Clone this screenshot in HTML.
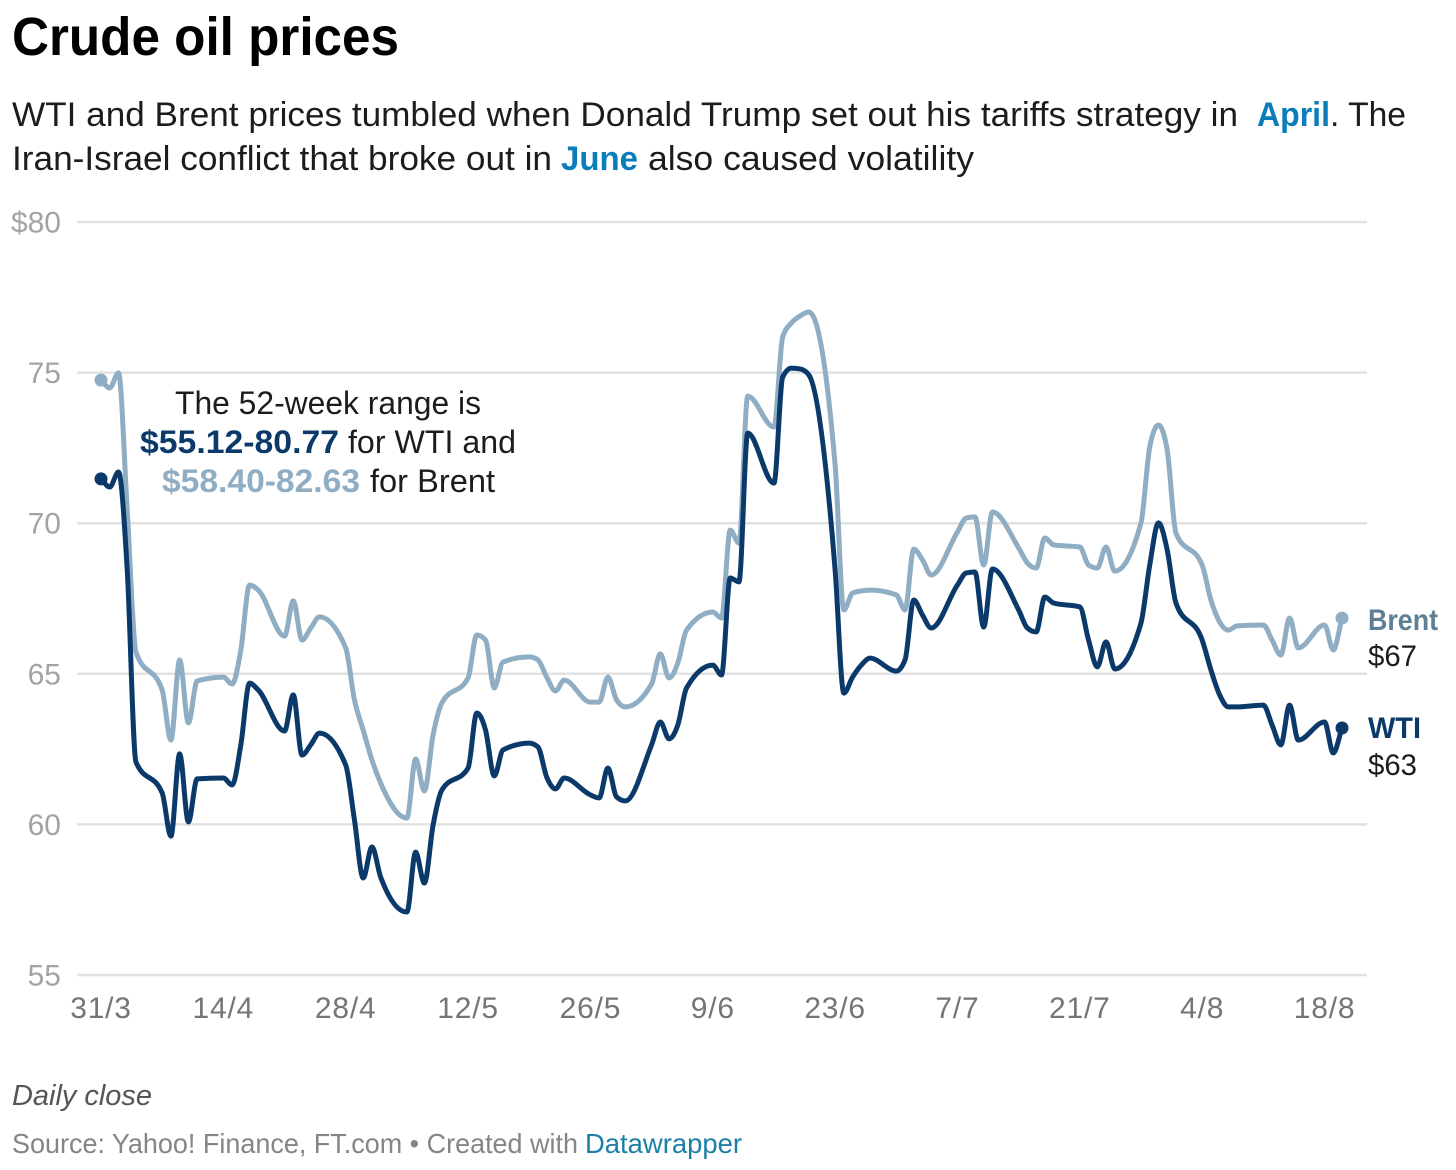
<!DOCTYPE html>
<html lang="en">
<head>
<meta charset="utf-8">
<title>Crude oil prices</title>
<style>
html,body{margin:0;padding:0;background:#fff;}
body{width:1456px;height:1170px;overflow:hidden;}
svg{display:block;}
text{font-family:"Liberation Sans",Arial,sans-serif;}
</style>
</head>
<body>
<svg id="chart" xmlns="http://www.w3.org/2000/svg" width="1456" height="1170" viewBox="0 0 1456 1170">
  <text x="12" y="55" font-size="54" font-weight="700" fill="#000" textLength="387" lengthAdjust="spacingAndGlyphs">Crude oil prices</text>

  <g font-size="34.5" fill="#1c1c1c">
    <text x="12" y="126" textLength="1226" lengthAdjust="spacingAndGlyphs">WTI and Brent prices tumbled when Donald Trump set out his tariffs strategy in</text>
    <text x="1257" y="126" font-weight="700" fill="#0a7dbb" textLength="73" lengthAdjust="spacingAndGlyphs">April</text>
    <text x="1330" y="126" textLength="76" lengthAdjust="spacingAndGlyphs">. The</text>
    <text x="12" y="170" textLength="540" lengthAdjust="spacingAndGlyphs">Iran-Israel conflict that broke out in</text>
    <text x="561" y="170" font-weight="700" fill="#0a7dbb" textLength="77" lengthAdjust="spacingAndGlyphs">June</text>
    <text x="648" y="170" textLength="326" lengthAdjust="spacingAndGlyphs">also caused volatility</text>
  </g>

  <g id="grid"></g>
  <g id="yaxis"></g>
  <g id="xaxis"></g>
  <g id="series"></g>

  <g font-size="32" fill="#1c1c1c">
    <text x="175" y="414" textLength="306" lengthAdjust="spacingAndGlyphs">The 52-week range is</text>
    <text x="140" y="453" font-weight="700" fill="#0b3a6a" textLength="199" lengthAdjust="spacingAndGlyphs">$55.12-80.77</text>
    <text x="348" y="453" textLength="168" lengthAdjust="spacingAndGlyphs">for WTI and</text>
    <text x="162" y="492" font-weight="700" fill="#8fadc3" textLength="198" lengthAdjust="spacingAndGlyphs">$58.40-82.63</text>
    <text x="370" y="492" textLength="125" lengthAdjust="spacingAndGlyphs">for Brent</text>
  </g>

  <g font-size="30">
    <text x="1368" y="630" font-weight="700" fill="#5f7f95" textLength="70" lengthAdjust="spacingAndGlyphs">Brent</text>
    <text x="1368" y="666" fill="#1c1c1c" textLength="49" lengthAdjust="spacingAndGlyphs">$67</text>
    <text x="1368" y="738" font-weight="700" fill="#0b3a6a" textLength="53" lengthAdjust="spacingAndGlyphs">WTI</text>
    <text x="1368" y="775" fill="#1c1c1c" textLength="49" lengthAdjust="spacingAndGlyphs">$63</text>
  </g>

  <text x="12" y="1105" font-size="29" font-style="italic" fill="#555" textLength="140" lengthAdjust="spacingAndGlyphs">Daily close</text>
  <text x="12" y="1153" font-size="28" fill="#858585" textLength="566" lengthAdjust="spacingAndGlyphs">Source: Yahoo! Finance, FT.com • Created with</text>
  <text x="585" y="1153" font-size="28" fill="#1b7fa6" textLength="157" lengthAdjust="spacingAndGlyphs">Datawrapper</text>
</svg>

<script>
// Days since 31 March (trading days only)
const days = [0,1,2,3,4, 7,8,9,10,11, 14,15,16,17,18, 21,22,23,24,25, 28,29,30,31,32,
  35,36,37,38,39, 42,43,44,45,46, 49,50,51,52,53, 56,57,58,59,60, 63,64,65,66,67,
  70,71,72,73,74, 77,78,79,80,81, 84,85,86,87,88, 91,92,93,94,95, 98,99,100,101,102,
  105,106,107,108,109, 112,113,114,115,116, 119,120,121,122,123, 126,127,128,129,130,
  133,134,135,136,137, 140,141,142];

const wti = [71.47,71.20,71.70,68.45,62.07, 61.04,59.61,62.34,60.08,61.51,
  61.54,61.31,62.64,64.69,64.46, 63.10,64.30,62.30,62.64,63.03,
  61.97,60.15,58.22,59.25,58.25, 57.09,59.08,58.05,59.98,61.14,
  61.87,63.70,63.13,61.61,62.47, 62.70,62.57,61.57,61.18,61.54,
  60.98,60.88,61.87,60.91,60.78, 62.64,63.40,62.84,63.30,64.53,
  65.29,64.96,68.18,68.05,72.99, 71.33,74.85,75.15,75.12,74.92,
  68.45,64.36,64.89,65.29,65.52, 65.09,65.46,67.45,66.95,66.52,
  67.95,68.35,68.38,66.55,68.48, 67.12,66.52,66.39,67.55,67.35,
  67.22,66.12,65.23,66.06,65.16, 66.69,68.61,70.01,69.11,67.35,
  66.12,65.13,64.30,63.90,63.90, 63.96,63.30,62.64,63.96,62.80,
  63.40,62.37,63.20];

const brent = [74.75,74.49,74.99,70.44,65.72, 64.46,62.80,65.46,63.37,64.76,
  64.89,64.66,65.79,67.95,67.78, 66.25,67.42,66.12,66.52,66.89,
  65.86,64.13,63.13,62.14,61.37, 60.21,62.17,61.11,62.97,64.03,
  64.86,66.29,66.12,64.53,65.39, 65.56,65.46,64.89,64.43,64.79,
  64.06,64.06,64.89,64.13,63.90, 64.66,65.66,64.86,65.36,66.45,
  67.05,66.85,69.77,69.34,74.22, 73.19,76.18,76.65,76.88,77.01,
  71.93,67.12,67.68,67.75,67.78, 67.62,67.12,69.14,68.78,68.28,
  69.71,70.17,70.21,68.61,70.37, 69.18,68.68,68.51,69.51,69.28,
  69.21,68.61,68.51,69.21,68.41, 70.01,72.53,73.26,72.43,69.67,
  68.61,67.45,66.72,66.45,66.59, 66.62,66.12,65.62,66.85,65.86,
  66.62,65.79,66.85];

const yTicks = [80,75,70,65,60,55];
const yTickLabels = ['$80','75','70','65','60','55'];
const xTicks = [0,14,28,42,56,70,84,98,112,126,140];
const xTickLabels = ['31/3','14/4','28/4','12/5','26/5','9/6','23/6','7/7','21/7','4/8','18/8'];

const NS = 'http://www.w3.org/2000/svg';
function xScale(d){ return 101 + d * (1342 - 101) / 142; }
function yScale(v){ return 222 + (80 - v) * (975 - 222) / 25; }

function make(tag, attrs, parent){
  const el = document.createElementNS(NS, tag);
  for (const k in attrs) el.setAttribute(k, attrs[k]);
  parent.appendChild(el);
  return el;
}

// Monotone-X cubic interpolation
function monotonePath(xs, ys){
  const n = xs.length, dx = [], m = [], t = [];
  for (let i = 0; i < n - 1; i++){ dx[i] = xs[i+1] - xs[i]; m[i] = (ys[i+1] - ys[i]) / dx[i]; }
  t[0] = m[0]; t[n-1] = m[n-2];
  for (let i = 1; i < n - 1; i++){
    if (m[i-1] * m[i] <= 0) t[i] = 0;
    else {
      const p = (m[i-1] * dx[i] + m[i] * dx[i-1]) / (dx[i-1] + dx[i]);
      const s = (m[i-1] > 0 ? 1 : -1);
      t[i] = s * Math.min(Math.abs(m[i-1]), Math.abs(m[i])) * 2;
      t[i] = s * Math.min(Math.abs(t[i]), Math.abs(p));
    }
  }
  let d = 'M' + xs[0].toFixed(2) + ' ' + ys[0].toFixed(2);
  for (let i = 0; i < n - 1; i++){
    const h = dx[i] / 3;
    d += 'C' + (xs[i]+h).toFixed(2) + ' ' + (ys[i]+t[i]*h).toFixed(2) + ' ' +
         (xs[i+1]-h).toFixed(2) + ' ' + (ys[i+1]-t[i+1]*h).toFixed(2) + ' ' +
         xs[i+1].toFixed(2) + ' ' + ys[i+1].toFixed(2);
  }
  return d;
}

const gGrid = document.getElementById('grid');
const gY = document.getElementById('yaxis');
const gX = document.getElementById('xaxis');
const gS = document.getElementById('series');

yTicks.forEach(function(v, i){
  const line = make('line', {x1:77, x2:1367, y1:yScale(v), y2:yScale(v), stroke:'#e2e2e2', 'stroke-width':2.5}, gGrid);
  
  
  const label = make('text', {x:61, y:yScale(v) + 10.5, 'text-anchor':'end', 'font-size':30, fill:'#a3a3a3'}, gY);
  label.textContent = yTickLabels[i];
  
  
});

xTicks.forEach(function(d, i){
  const label = make('text', {x:xScale(d), y:1018, 'text-anchor':'middle', 'font-size':30, 'letter-spacing':'0.8', fill:'#757575'}, gX);
  label.textContent = xTickLabels[i];
  
  
});

function drawSeries(values, color, width){
  const xs = days.map(xScale), ys = values.map(yScale);
  const path = make('path', {d:monotonePath(xs, ys), fill:'none', stroke:color, 'stroke-width':width, 'stroke-linejoin':'round', 'stroke-linecap':'round'}, gS);
  
  
  const startDot = make('circle', {cx:xs[0], cy:ys[0], r:6.5, fill:color}, gS);
  
  
  const endDot = make('circle', {cx:xs[xs.length-1], cy:ys[ys.length-1], r:6.5, fill:color}, gS);
  
  
}
drawSeries(brent, '#8fadc3', 5);
drawSeries(wti, '#0b3a6a', 5);
</script>
</body>
</html>
